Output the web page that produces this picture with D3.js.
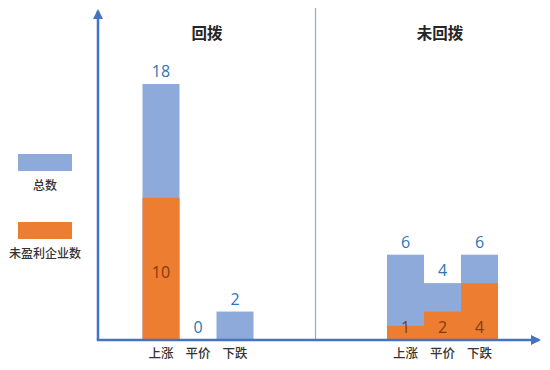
<!DOCTYPE html>
<html>
<head>
<meta charset="utf-8">
<script src="https://cdn.jsdelivr.net/npm/d3@7/dist/d3.min.js"></script>
<style>
  html, body { margin: 0; padding: 0; background: #fff; }
  svg { display: block; }
</style>
</head>
<body>
<svg id="chart" width="550" height="370"></svg>
<script>
// Categories and values
const categories = ["上涨", "平价", "下跌"];
const groupTitles = ["回拨", "未回拨"];
const totalHuibo = [18, 0, 2];
const unprofitableHuibo = [10, 0, 0];
const totalWeiHuibo = [6, 4, 6];
const unprofitableWeiHuibo = [1, 2, 4];
const legendLabels = ["总数", "未盈利企业数"];

const colors = { total: "#8eaadb", unprofit: "#ed7d31", axis: "#4472c4", divider: "#8eaadb",
                 valueText: "#2e75b6", innerText: "#843c0c", label: "#333333", title: "#262626" };
const cjk = "'Noto Sans CJK SC', 'Noto Sans', sans-serif";
const num = "'Open Sans', 'Noto Sans', sans-serif";

const svg = d3.select("#chart");
const axisY = 340, axisX = 98;

const y = d3.scaleLinear().domain([0, 18]).range([axisY, 84]);

const groups = [
  { title: groupTitles[0], total: totalHuibo, unprofit: unprofitableHuibo,
    x: d3.scaleBand().domain(categories).range([142.5, 253.5]).padding(0),
    titleX: 207, innerMid: true },
  { title: groupTitles[1], total: totalWeiHuibo, unprofit: unprofitableWeiHuibo,
    x: d3.scaleBand().domain(categories).range([387, 498]).padding(0),
    titleX: 440, innerMid: false }
];

// Divider between groups
svg.append("line")
  .attr("x1", 315.5).attr("x2", 315.5).attr("y1", 8).attr("y2", axisY)
  .attr("stroke", colors.divider).attr("stroke-width", 1.2);

groups.forEach(g => {
  const rows = categories.map((c, i) => ({ c, total: g.total[i], unprofit: g.unprofit[i] }));
  const G = svg.append("g");

  // Total bars
  G.selectAll("rect.total").data(rows).join("rect")
    .attr("class", "total")
    .attr("x", d => g.x(d.c)).attr("width", g.x.bandwidth())
    .attr("y", d => y(d.total)).attr("height", d => axisY - y(d.total))
    .attr("fill", colors.total);

  // Unprofitable bars, overlaid from the baseline
  G.selectAll("rect.unprofit").data(rows.filter(d => d.unprofit > 0)).join("rect")
    .attr("class", "unprofit")
    .attr("x", d => g.x(d.c)).attr("width", g.x.bandwidth())
    .attr("y", d => y(d.unprofit)).attr("height", d => axisY - y(d.unprofit))
    .attr("fill", colors.unprofit);

  // Total value labels
  G.selectAll("text.val").data(rows).join("text")
    .attr("x", d => g.x(d.c) + g.x.bandwidth() / 2)
    .attr("y", d => y(d.total) - 7)
    .attr("text-anchor", "middle")
    .attr("font-family", num).attr("font-size", 16).attr("font-weight", 500)
    .attr("fill", colors.valueText)
    .text(d => d.total);

  // Unprofitable value labels
  G.selectAll("text.inner").data(rows.filter(d => d.unprofit > 0)).join("text")
    .attr("x", d => g.x(d.c) + g.x.bandwidth() / 2)
    .attr("y", d => g.innerMid ? (y(d.unprofit) + axisY) / 2 + 9 : axisY - 7)
    .attr("text-anchor", "middle")
    .attr("font-family", num).attr("font-size", 16).attr("font-weight", 500)
    .attr("fill", colors.innerText)
    .text(d => d.unprofit);

  // Category labels
  G.selectAll("text.cat").data(categories).join("text")
    .attr("x", d => g.x(d) + g.x.bandwidth() / 2)
    .attr("y", 358)
    .attr("text-anchor", "middle")
    .attr("font-family", cjk).attr("font-size", 12.5).attr("font-weight", 500)
    .attr("fill", colors.label)
    .text(d => d);

  // Group title
  svg.append("text")
    .attr("x", g.titleX).attr("y", 39)
    .attr("text-anchor", "middle")
    .attr("font-family", cjk).attr("font-size", 15.5).attr("font-weight", "bold")
    .attr("fill", colors.title)
    .text(g.title);
});

// Axes with arrowheads
const defs = svg.append("defs");
defs.append("marker")
  .attr("id", "arrow").attr("viewBox", "0 0 10 10")
  .attr("refX", 8).attr("refY", 5)
  .attr("markerWidth", 4).attr("markerHeight", 4)
  .attr("orient", "auto")
  .append("path").attr("d", "M0,0 L10,5 L0,10 z").attr("fill", colors.axis);

svg.append("line")
  .attr("x1", axisX).attr("y1", axisY).attr("x2", axisX).attr("y2", 11)
  .attr("stroke", colors.axis).attr("stroke-width", 2.5)
  .attr("marker-end", "url(#arrow)");
svg.append("line")
  .attr("x1", axisX - 1.25).attr("y1", axisY).attr("x2", 539).attr("y2", axisY)
  .attr("stroke", colors.axis).attr("stroke-width", 2.5)
  .attr("marker-end", "url(#arrow)");

// Legend
const legend = svg.append("g");
const legendItems = [
  { label: legendLabels[0], color: colors.total, top: 154 },
  { label: legendLabels[1], color: colors.unprofit, top: 222 }
];
legendItems.forEach(it => {
  legend.append("rect")
    .attr("x", 18).attr("y", it.top).attr("width", 54).attr("height", 17)
    .attr("fill", it.color);
  legend.append("text")
    .attr("x", 45).attr("y", it.top + 36)
    .attr("text-anchor", "middle")
    .attr("font-family", cjk).attr("font-size", 12).attr("font-weight", 500)
    .attr("fill", colors.label)
    .text(it.label);
});
</script>
</body>
</html>
